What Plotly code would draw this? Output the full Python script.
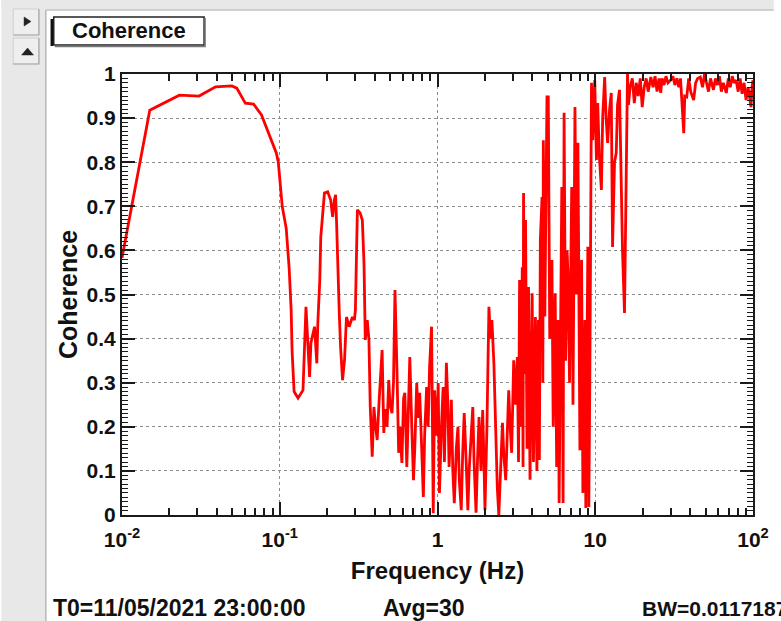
import plotly.graph_objects as go

# ---- data ----
freq_hz = [
    0.0100, 0.0150, 0.0231, 0.0308, 0.0392, 0.0497, 0.0534, 0.0605, 0.0682, 0.0766,
    0.0951, 0.0979, 0.1037, 0.1099, 0.1147, 0.1181, 0.1198, 0.1233, 0.1306, 0.1404,
    0.1466, 0.1546, 0.1576, 0.1662, 0.1718, 0.1743, 0.1794, 0.1820, 0.1920, 0.2013,
    0.2103, 0.2164, 0.2219, 0.2260, 0.2293, 0.2327, 0.2384, 0.2430, 0.2501, 0.2574,
    0.2649, 0.2754, 0.2889, 0.2974, 0.3017, 0.3106, 0.3229, 0.3338, 0.3421, 0.3485,
    0.3588, 0.3676, 0.3747, 0.3856, 0.3953, 0.4027, 0.4146, 0.4266, 0.4455, 0.4566,
    0.4653, 0.4789, 0.4908, 0.5000, 0.5147, 0.5260, 0.5376, 0.5533, 0.5672, 0.5777,
    0.5947, 0.6095, 0.6210, 0.6390, 0.6550, 0.6675, 0.6871, 0.7041, 0.7176, 0.7385,
    0.7546, 0.7711, 0.7940, 0.8133, 0.8289, 0.8532, 0.8719, 0.8909, 0.9171, 0.9397,
    0.9576, 0.9857, 1.0102, 1.0292, 1.0595, 1.0856, 1.1063, 1.1386, 1.1637, 1.1840,
    1.2064, 1.2240, 1.2506, 1.2781, 1.3155, 1.3483, 1.3740, 1.4142, 1.4445, 1.4767,
    1.5198, 1.5577, 1.5870, 1.6334, 1.6737, 1.7055, 1.7555, 1.7944, 1.8333, 1.8868,
    1.9338, 1.9712, 1.9990, 2.0577, 2.1184, 2.1645, 2.2121, 2.2771, 2.3436, 2.3953,
    2.4474, 2.5192, 2.5815, 2.6293, 2.7073, 2.7663, 2.8270, 2.8883, 2.9521, 3.0404,
    3.1271, 3.2063, 3.2630, 3.3144, 3.3856, 3.4460, 3.4866, 3.5116, 3.5628, 3.6145,
    3.6944, 3.7760, 3.8593, 3.9810, 4.0575, 4.1760, 4.2673, 4.3608, 4.4244, 4.4875,
    4.5991, 4.6531, 4.6868, 4.7899, 4.9431, 5.0373, 5.1474, 5.3131, 5.4136, 5.5721,
    5.6941, 5.8189, 5.9036, 5.9888, 6.1381, 6.2540, 6.3452, 6.4842, 6.6262, 6.7230,
    6.8707, 7.0919, 7.2253, 7.4376, 7.6004, 7.7667, 7.9937, 8.1937, 8.3484, 8.5944,
    8.7130, 8.9743, 9.1044, 9.2372, 9.4674, 9.6446, 9.9284, 10.175, 10.367, 10.595,
    10.936, 11.143, 11.470, 11.720, 11.977, 12.328, 12.635, 12.872, 13.251, 13.584,
    13.842, 14.249, 14.607, 14.885, 15.324, 15.664, 16.012, 16.246, 16.63, 17.18,
    17.69, 18.20, 18.73, 19.29, 19.85, 20.43, 21.03, 21.65, 22.50, 23.26,
    23.94, 24.65, 25.37, 26.00, 26.50, 27.27, 28.07, 28.89, 30.04, 31.06,
    31.97, 32.90, 33.87, 34.71, 35.37, 36.40, 36.93, 38.01, 39.13, 40.27,
    42.05, 43.29, 44.55, 46.33, 47.90, 49.30, 50.74, 52.24, 53.76, 56.14,
    57.79, 59.48, 61.22, 63.01, 64.84, 67.72, 69.71, 71.74, 73.83, 76.00,
    78.22, 80.54, 82.89, 85.31, 87.81, 90.37, 93.04, 95.76, 97.16, 98.56,
    100.0,
]

coherence = [
    0.583, 0.918, 0.952, 0.950, 0.971, 0.973, 0.968, 0.934, 0.932, 0.907,
    0.821, 0.800, 0.700, 0.650, 0.560, 0.465, 0.370, 0.280, 0.265, 0.283,
    0.472, 0.313, 0.390, 0.427, 0.344, 0.435, 0.533, 0.630, 0.730, 0.733,
    0.714, 0.676, 0.714, 0.726, 0.662, 0.556, 0.458, 0.381, 0.306, 0.351,
    0.449, 0.427, 0.449, 0.442, 0.465, 0.692, 0.685, 0.669, 0.571, 0.397,
    0.442, 0.397, 0.245, 0.132, 0.245, 0.210, 0.170, 0.260, 0.374, 0.186,
    0.240, 0.200, 0.306, 0.250, 0.231, 0.300, 0.510, 0.330, 0.141, 0.200,
    0.118, 0.265, 0.277, 0.109, 0.231, 0.358, 0.200, 0.079, 0.150, 0.299,
    0.220, 0.277, 0.150, 0.041, 0.180, 0.290, 0.200, 0.336, 0.427, 0.004,
    0.283, 0.180, 0.299, 0.050, 0.200, 0.290, 0.120, 0.345, 0.250, 0.109,
    0.180, 0.261, 0.100, 0.027, 0.150, 0.200, 0.080, 0.011, 0.140, 0.231,
    0.120, 0.011, 0.100, 0.190, 0.245, 0.120, 0.005, 0.130, 0.222, 0.100,
    0.238, 0.120, 0.011, 0.200, 0.472, 0.400, 0.442, 0.345, 0.141, 0.060,
    0.000, 0.100, 0.209, 0.140, 0.079, 0.180, 0.283, 0.200, 0.141, 0.351,
    0.250, 0.358, 0.120, 0.533, 0.200, 0.562, 0.109, 0.730, 0.320, 0.669,
    0.150, 0.517, 0.080, 0.503, 0.120, 0.449, 0.100, 0.442, 0.125, 0.624,
    0.721, 0.300, 0.850, 0.450, 0.948, 0.948, 0.400, 0.578, 0.200, 0.503,
    0.109, 0.442, 0.027, 0.300, 0.744, 0.027, 0.912, 0.350, 0.600, 0.540,
    0.300, 0.744, 0.250, 0.925, 0.500, 0.844, 0.147, 0.578, 0.050, 0.442,
    0.016, 0.608, 0.018, 0.300, 0.980, 0.850, 0.986, 0.805, 0.934, 0.820,
    0.737, 0.900, 0.993, 0.900, 0.844, 0.920, 0.957, 0.608, 0.800, 0.821,
    0.930, 0.964, 0.692, 0.600, 0.458, 0.700, 1.000, 0.930, 0.970, 0.990,
    0.934, 0.980, 0.950, 0.990, 0.925, 0.970, 0.990, 0.960, 0.993, 0.970,
    0.995, 0.960, 0.990, 0.957, 0.990, 0.975, 0.995, 0.980, 0.986, 0.995,
    0.975, 0.990, 0.970, 0.990, 0.930, 0.866, 0.950, 0.948, 0.990, 0.960,
    0.941, 0.980, 0.990, 0.993, 0.970, 1.000, 0.980, 0.960, 0.990, 0.964,
    0.990, 0.975, 0.995, 0.960, 0.980, 0.957, 0.990, 0.970, 0.995, 0.980,
    0.986, 0.960, 0.990, 0.955, 0.980, 0.941, 0.970, 0.930, 0.925, 0.970,
    0.986,
]

x_tick_vals = [0.01, 0.1, 1, 10, 100]
x_tick_text = ["10<sup>-2</sup>", "10<sup>-1</sup>", "1", "10", "10<sup>2</sup>"]
y_tick_vals = [0, 0.1, 0.2, 0.3, 0.4, 0.5, 0.6, 0.7, 0.8, 0.9, 1.0]
y_tick_text = ["0", "0.1", "0.2", "0.3", "0.4", "0.5", "0.6", "0.7", "0.8", "0.9", "1"]
x_minor_vals = [m * d for d in (0.01, 0.1, 1, 10) for m in range(2, 10)]
y_minor_vals = [i / 100 for i in range(1, 100) if i % 10 != 0]

title_text = "Coherence"
x_title = "Frequency (Hz)"
y_title = "Coherence"
footer_t0 = "T0=11/05/2021 23:00:00"
footer_avg = "Avg=30"
footer_bw = "BW=0.0117187"

# ---- layout geometry ----
W, H = 781, 621
L, R, T, B = 122, 21, 74, 106
PW, PH = W - L - R, H - T - B


def px(x):
    return (x - L) / PW


def py(y):
    return (H - B - y) / PH


FONT = "Liberation Sans, Arial, Helvetica, sans-serif"
INK = "#111111"

fig = go.Figure()
fig.add_trace(go.Scatter(
    x=freq_hz, y=coherence, mode="lines",
    line=dict(color="#ff0000", width=2.8),
    hoverinfo="skip", showlegend=False,
))
# empty trace so the overlaid minor-tick axes are created
fig.add_trace(go.Scatter(x=[], y=[], xaxis="x2", yaxis="y2",
                         showlegend=False, hoverinfo="skip"))

axis_common = dict(
    showline=True, linecolor="#1a1a1a", linewidth=2, mirror="ticks",
    ticks="inside", ticklen=13, tickwidth=1.5, tickcolor="#1a1a1a",
    showgrid=True, gridcolor="#8c8c8c", griddash="dot", gridwidth=1,
    zeroline=False,
    tickfont=dict(family=FONT, size=21, color=INK, weight="bold"),
)

fig.update_layout(
    xaxis=dict(
        type="log", range=[-2, 2], tickmode="array",
        tickvals=x_tick_vals, ticktext=x_tick_text, ticklabelstandoff=5,
        title=dict(text=x_title, standoff=12,
                   font=dict(family=FONT, size=24, color=INK, weight="bold")),
        **axis_common,
    ),
    yaxis=dict(
        range=[0, 1], tickmode="array", tickvals=y_tick_vals, ticktext=y_tick_text,
        title=dict(text=y_title, standoff=2,
                   font=dict(family=FONT, size=25, color=INK, weight="bold")),
        **axis_common,
    ),
    xaxis2=dict(
        type="log", range=[-2, 2], overlaying="x", anchor="y2", side="bottom",
        tickmode="array", tickvals=x_minor_vals, showticklabels=False,
        ticks="inside", ticklen=7, tickwidth=1.5, tickcolor="#1a1a1a",
        mirror="ticks", showline=False, showgrid=False, zeroline=False,
    ),
    yaxis2=dict(
        range=[0, 1], overlaying="y", anchor="x2", side="left",
        tickmode="array", tickvals=y_minor_vals, showticklabels=False,
        ticks="inside", ticklen=6, tickwidth=1.2, tickcolor="#1a1a1a",
        mirror="ticks", showline=False, showgrid=False, zeroline=False,
    ),
)

shapes = []
# left grey strip and top grey band
shapes.append(dict(type="rect", xref="paper", yref="paper", x0=px(0), x1=px(45),
                   y0=py(0), y1=py(H), fillcolor="#e8e8e8", line=dict(width=0)))
shapes.append(dict(type="rect", xref="paper", yref="paper", x0=px(0), x1=px(W),
                   y0=py(0), y1=py(10), fillcolor="#e8e8e8", line=dict(width=0)))
shapes.append(dict(type="line", xref="paper", yref="paper", x0=px(45), x1=px(45),
                   y0=py(10), y1=py(H), line=dict(color="#b8b8b8", width=1.5)))
shapes.append(dict(type="line", xref="paper", yref="paper", x0=px(45), x1=px(W),
                   y0=py(10), y1=py(10), line=dict(color="#c4c4c4", width=1.5)))
# buttons
for (y0, y1) in [(9, 35), (38, 64)]:
    shapes.append(dict(type="rect", xref="paper", yref="paper", x0=px(12), x1=px(38),
                       y0=py(y0), y1=py(y1), fillcolor="#eeeeee",
                       line=dict(color="#cfcfcf", width=1)))
    shapes.append(dict(type="path", xref="paper", yref="paper",
                       path=f"M {px(38)},{py(y0)} L {px(38)},{py(y1)} L {px(12)},{py(y1)}",
                       line=dict(color="#a8a8a8", width=1.2)))
shapes.append(dict(type="path", xref="paper", yref="paper",
                   path=f"M {px(23)},{py(17)} L {px(30)},{py(21.5)} L {px(23)},{py(26)} Z",
                   fillcolor="#222222", line=dict(color="#222222", width=0.5)))
shapes.append(dict(type="path", xref="paper", yref="paper",
                   path=f"M {px(20.5)},{py(55)} L {px(26.5)},{py(48)} L {px(32.5)},{py(55)} Z",
                   fillcolor="#222222", line=dict(color="#222222", width=0.5)))
# title box
shapes.append(dict(type="rect", xref="paper", yref="paper", x0=px(53), x1=px(205),
                   y0=py(17), y1=py(45), fillcolor="white",
                   line=dict(color="#222222", width=1.5)))
shapes.append(dict(type="line", xref="paper", yref="paper", x0=px(51), x1=px(51),
                   y0=py(19), y1=py(46), line=dict(color="#111111", width=2.5)))
shapes.append(dict(type="path", xref="paper", yref="paper",
                   path=f"M {px(206)},{py(18)} L {px(206)},{py(46.5)} L {px(54)},{py(46.5)}",
                   line=dict(color="#777777", width=1.5)))

foot_font = dict(family=FONT, size=23, color=INK, weight="bold")
annotations = [
    dict(text=title_text, xref="paper", yref="paper", x=px(129), y=py(31),
         xanchor="center", yanchor="middle", showarrow=False,
         font=dict(family=FONT, size=22, color=INK, weight="bold")),
    dict(text=footer_t0, xref="paper", yref="paper", x=px(50), y=py(608),
         xanchor="left", yanchor="middle", showarrow=False, font=foot_font),
    dict(text=footer_avg, xref="paper", yref="paper", x=px(384), y=py(608),
         xanchor="left", yanchor="middle", showarrow=False, font=foot_font),
    dict(text=footer_bw, xref="paper", yref="paper", x=px(646), y=py(608),
         xanchor="left", yanchor="middle", showarrow=False,
         font=dict(family=FONT, size=21, color=INK, weight="bold")),
]

fig.update_layout(
    width=W, height=H,
    margin=dict(l=L, r=R, t=T, b=B, pad=0),
    paper_bgcolor="white", plot_bgcolor="white",
    shapes=shapes, annotations=annotations,
    showlegend=False,
)

fig.write_html("out.html")
